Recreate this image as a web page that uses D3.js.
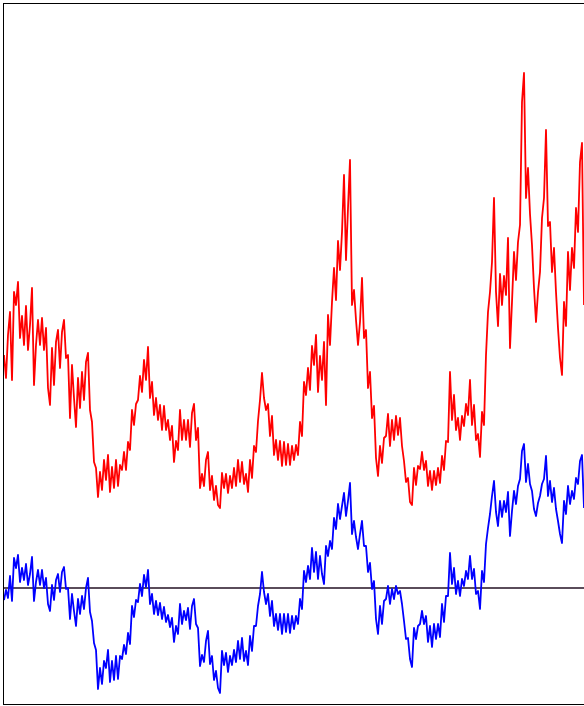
<!DOCTYPE html>
<html>
<head>
<meta charset="utf-8">
<script src="https://cdn.jsdelivr.net/npm/d3@7"></script>
<style>
  html, body { margin: 0; padding: 0; background: #fff; }
  svg { display: block; }
</style>
</head>
<body>
<svg id="chart" width="584" height="706"></svg>
<script>
// Two simulated paths sampled on a regular grid of steps.
// "price" is the upper (red) path, "logReturn" the lower (blue) path, 0 = reference level.
const price = [
  233,210,253,276,208,296,283,306,250,272,
  243,282,238,263,300,203,243,268,243,270,
  238,260,200,183,240,203,246,258,220,256,
  268,230,233,170,223,190,161,210,180,216,
  188,226,235,178,166,126,120,91,116,98,
  128,108,133,96,121,100,128,102,123,118,
  136,118,146,138,178,163,184,188,212,196,
  228,208,241,190,206,173,190,168,183,158,
  182,158,168,148,162,126,147,138,178,148,
  168,148,168,141,175,184,148,160,100,114,
  102,128,136,98,112,88,102,83,80,115,
  100,114,95,112,100,120,102,128,106,126,
  104,114,96,128,110,142,136,167,188,215,
  190,178,184,152,172,133,148,128,147,122,
  146,123,144,123,142,128,143,133,166,152,
  206,193,220,198,242,223,253,196,232,208,
  246,183,273,243,286,320,288,347,318,356,
  413,328,380,428,283,298,268,243,266,310,
  250,258,200,216,170,182,130,112,142,125,
  150,152,174,142,168,148,172,153,170,142,
  127,106,110,86,83,120,103,122,119,136,
  118,127,102,117,98,117,103,120,105,132,
  118,147,146,216,168,193,158,170,148,172,
  162,184,173,208,163,183,148,154,131,176,
  163,233,276,296,326,390,296,262,314,283,
  312,293,350,240,286,336,308,346,363,486,
  515,390,420,374,343,300,266,296,316,370,
  390,458,362,366,316,340,296,260,230,213,
  286,262,336,298,340,320,380,356,426,445,
  283
];

const logReturn = [
  -12,-2,-10,12,-13,30,20,33,6,20,
  8,24,3,14,31,-13,6,18,3,18,
  0,10,-16,-23,3,-12,8,14,-4,16,
  21,-1,0,-31,-6,-23,-38,-11,-26,-8,
  -21,0,10,-24,-33,-55,-62,-101,-80,-96,
  -73,-80,-62,-94,-73,-92,-68,-91,-68,-71,
  -57,-66,-45,-56,-18,-29,-12,-14,4,-8,
  13,1,18,-16,-6,-26,-13,-27,-15,-31,
  -19,-34,-27,-39,-30,-54,-38,-46,-16,-36,
  -23,-32,-20,-41,-18,-11,-36,-40,-78,-67,
  -74,-53,-43,-76,-68,-92,-83,-100,-105,-63,
  -77,-65,-84,-68,-77,-62,-74,-53,-71,-50,
  -73,-63,-77,-48,-63,-38,-38,-18,-6,16,
  -4,-16,-6,-28,-13,-38,-26,-42,-26,-46,
  -26,-44,-26,-45,-28,-41,-28,-36,-11,-21,
  17,6,22,9,40,16,36,9,32,14,
  4,42,32,47,39,70,59,84,69,82,
  95,72,87,105,54,67,51,39,54,67,
  42,42,16,25,-1,7,-31,-46,-18,-36,
  -13,-11,2,-16,-1,-11,2,-6,-3,-16,
  -33,-51,-50,-71,-79,-40,-51,-38,-36,-23,
  -36,-28,-54,-38,-59,-36,-51,-36,-49,-16,
  -34,-8,-8,35,4,20,-6,7,-8,9,
  2,17,9,32,9,19,-6,-3,-21,17,
  6,44,60,74,92,107,76,62,87,71,
  87,76,96,52,77,97,84,102,109,137,
  144,106,124,104,97,79,72,85,92,104,
  109,132,92,107,86,100,79,67,54,45,
  87,74,102,84,97,89,110,104,127,133,
  80
];

const referenceLevel = [0];
const yDomain = [-117, 585];

const svg = d3.select("#chart");
const plot = { left: 3, top: 3, right: 604, bottom: 705 };

const n = price.length;
const x = d3.scaleLinear().domain([0, n - 1]).range([4, 584]);
const y = d3.scaleLinear().domain(yDomain).range([plot.bottom, plot.top]);

svg.append("defs").append("clipPath").attr("id", "plotClip")
  .append("rect")
  .attr("x", plot.left).attr("y", plot.top)
  .attr("width", plot.right - plot.left).attr("height", plot.bottom - plot.top);

const g = svg.append("g").attr("clip-path", "url(#plotClip)");

const line = d3.line()
  .x((d, i) => x(i))
  .y(d => y(d));

g.selectAll("line.ref")
  .data(referenceLevel)
  .join("line")
  .attr("class", "ref")
  .attr("x1", plot.left).attr("x2", plot.right)
  .attr("y1", d => y(d)).attr("y2", d => y(d))
  .attr("stroke", "#5a4c5a")
  .attr("stroke-width", 2);

g.append("path")
  .datum(price)
  .attr("fill", "none")
  .attr("stroke", "#ff0000")
  .attr("stroke-width", 1.8)
  .attr("stroke-linejoin", "round")
  .attr("d", line);

g.append("path")
  .datum(logReturn)
  .attr("fill", "none")
  .attr("stroke", "#0000ff")
  .attr("stroke-width", 1.8)
  .attr("stroke-linejoin", "round")
  .attr("d", line);

// frame around the plotting area (right edge lies beyond the canvas)
svg.append("rect")
  .attr("x", plot.left + 0.5).attr("y", plot.top + 0.5)
  .attr("width", plot.right - plot.left).attr("height", plot.bottom - plot.top - 1)
  .attr("fill", "none")
  .attr("stroke", "#000")
  .attr("stroke-width", 1);
</script>
</body>
</html>
